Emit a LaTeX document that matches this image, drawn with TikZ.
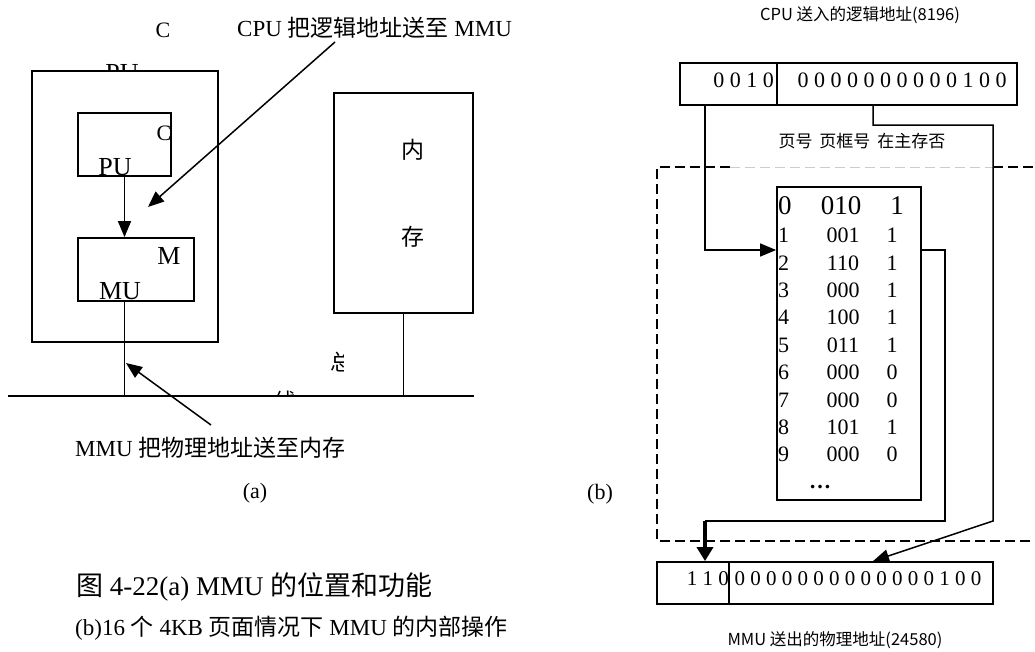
\documentclass[tikz,border=0pt]{standalone}
\usepackage{fontspec}
\setmainfont{Liberation Serif}
\newfontfamily\cjk{Noto Sans CJK SC}
\usetikzlibrary{arrows.meta,positioning}
\newcommand{\zh}[1]{{\cjk #1}}
\newcommand{\fs}[1]{\fontsize{#1}{#1}\selectfont}

\begin{document}
\begin{tikzpicture}[
    x=1pt, y=-1pt,
    box/.style={rectangle, draw, line width=1.8pt, fill=white, inner sep=0pt},
    txt/.style={inner sep=0pt, font=\fs{22}},
    big/.style={inner sep=0pt, font=\fs{26}},
    label/.style={inner sep=0pt, font=\fs{23}},
    small/.style={inner sep=0pt, font=\fs{16.5}\cjk},
    arrow/.style={-{Triangle[length=16pt,width=13pt]}, line width=1.5pt},
    bigarrow/.style={-{Triangle[length=14pt,width=16pt]}, line width=4pt},
    wire/.style={line width=1.6pt},
    dashbox/.style={line width=1.8pt, dash pattern=on 10pt off 5pt}
]
\useasboundingbox (0,0) rectangle (1035,651);

% (a) position of the MMU
\node[txt] (cpuC) at (163,30) {C};
\node[big] (cpuPU) at (122,73) {PU};
\node[box, minimum width=186, minimum height=271] (cpu) at (125,206.5) {};
\node[box, minimum width=93, minimum height=63] (core) at (124.5,144.5) {};
\node[txt] (coreC) at (164,133) {C};
\node[big, anchor=south] (corePU) at (115,176) {PU};
\node[box, minimum width=116, minimum height=63] (mmu) at (136,269.5) {};
\node[big] (mmuM) at (169,256) {M};
\node[big, anchor=south] (mmuMU) at (120,300) {MU};
\node[box, minimum width=139, minimum height=220] (mem) at (403.5,203) {};
\node[txt, font=\fs{23}\cjk] (memA) at (413,150) {内};
\node[txt, font=\fs{23}\cjk] (memB) at (413,237) {存};

\coordinate (busL) at (8,396);
\coordinate (busR) at (474,396);
\draw[wire] (busL) -- (busR);
\draw[arrow] (core.south) -- (core.south |- mmu.north);
\draw[wire] (core.south |- mmu.south) -- (core.south |- busL);
\draw[wire] (mem.south) -- (mem.south |- busL);

\begin{scope}
\clip (300,340) rectangle (343,385);
\node[txt, font=\fs{22}\cjk] (busZ) at (341,362) {总};
\end{scope}
\begin{scope}
\clip (260,380) rectangle (310,395);
\node[txt, font=\fs{22}\cjk] (busX) at (285,401) {线};
\end{scope}

\node[label, anchor=west] (note1) at (237,28) {CPU \zh{把逻辑地址送至} MMU};
\coordinate (n1s) at (335,42);
\coordinate (n1e) at (148,207);
\draw[arrow] (n1s) -- (n1e);
\node[label, anchor=west] (note2) at (75,448) {MMU \zh{把物理地址送至内存}};
\coordinate (n2s) at (211,425);
\coordinate (n2e) at (126,363);
\draw[arrow] (n2s) -- (n2e);

\node[txt] (capa) at (255,493) {(a)};
\node[txt] (capb) at (600,494) {(b)};
\node[label, anchor=west, font=\fs{27}] (title) at (76,587) {\zh{图} 4-22(a) MMU \zh{的位置和功能}};
\node[label, anchor=west] (subtitle) at (75,628) {(b)16 \zh{个} 4KB \zh{页面情况下} MMU \zh{的内部操作}};

% (b) inside the MMU
\node[small] (lin) at (860,15) {CPU 送入的逻辑地址(8196)};
\node[box, minimum width=97, minimum height=42] (regL) at (728.5,84) {};
\node[box, minimum width=240, minimum height=42] (regR) at (897,84) {};
\node[txt, anchor=east] (pgno) at (774,80) {0 0 1 0};
\node[txt] (offset) at (902,80) {0 0 0 0 0 0 0 0 0 0 1 0 0};
\node[small, font=\fs{17}\cjk] (head) at (862,141) {页号\hspace{0.4em}页框号\hspace{0.4em}在主存否};

\coordinate (dTL) at (657,167);
\coordinate (dBL) at (657,541);
\draw[dashbox] (730,167) -- (dTL) -- (dBL) -- (1040,541);
\draw[dashbox, line width=0.8pt, black!20] (730,167) -- (993,167);
\draw[dashbox] (993,167) -- (1040,167);

\node[box, minimum width=144, minimum height=313] (tbl) at (849,343.5) {};
\node[txt, font=\fs{27}, anchor=west] (idx0) at (778,206) {0};
\node[txt, font=\fs{27}] (frm0) at (841,206) {010};
\node[txt, font=\fs{27}] (bit0) at (897,206) {1};
\foreach \i/\f/\p in {1/001/1,2/110/1,3/000/1,4/100/1,5/011/1,6/000/0,7/000/0,8/101/1,9/000/0}{
  \node[txt, anchor=west] (idx\i) at ({778},{208+27.4*\i}) {\i};
  \node[txt] (frm\i) at ({843},{208+27.4*\i}) {\f};
  \node[txt] (bit\i) at ({892},{208+27.4*\i}) {\p};
}
\node[txt] (more) at (820,487) {\textbf{\ldots}};

\node[box, minimum width=72, minimum height=42] (botL) at (693,583) {};
\node[box, minimum width=264, minimum height=42] (botR) at (861,583) {};
\node[txt, anchor=east, font=\fs{21}] (frame) at (729,579) {1 1 0};
\node[txt, font=\fs{21}] (offout) at (858,579) {0 0 0 0 0 0 0 0 0 0 0 0 0 1 0 0};
\node[small] (lout) at (835,640) {MMU 送出的物理地址(24580)};

\coordinate (pgout) at (regL.south -| 705,0);
\coordinate (ofout) at (regR.south -| 873,0);
\coordinate (pgin) at (tbl.west |- 0,250);
\coordinate (frout) at (tbl.east |- 0,250);
\coordinate (frin) at (botL.north -| 705,0);
\coordinate (ofin) at (botR.north -| 873,0);

\draw[arrow] (pgout) |- (pgin);
\draw[arrow] (ofout) -- (873,125) -- (993,125) -- (993,521) -- (ofin);
\draw[wire] (frout) -- (945,250) -- (945,521) -- (705,521);
\draw[bigarrow] (705,521) -- (frin);
\end{tikzpicture}
\end{document}
